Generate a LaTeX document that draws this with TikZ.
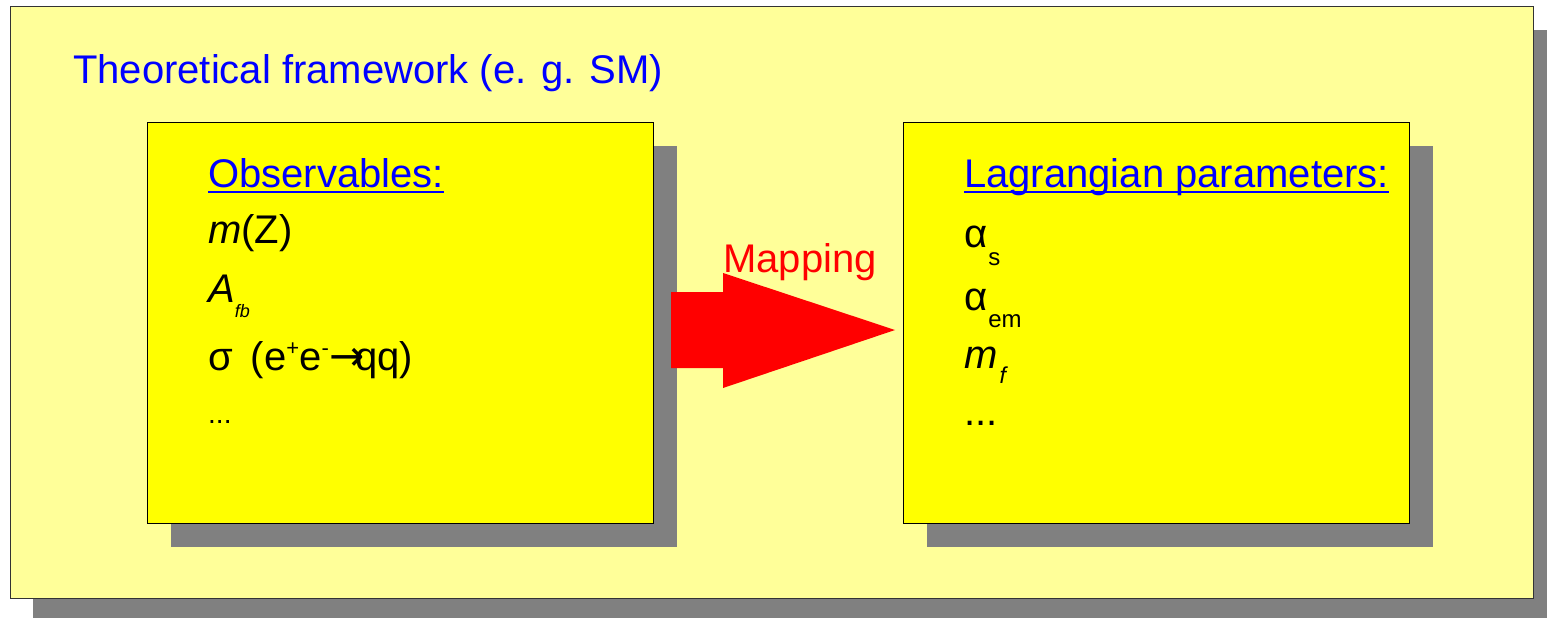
\documentclass[tikz,border=0pt]{standalone}
\usepackage{fontspec}
\setmainfont{Liberation Sans}
\newfontfamily\dejavu{DejaVu Sans}
\definecolor{paleyellow}{RGB}{255,255,153}
\definecolor{boxyellow}{RGB}{255,255,0}
\definecolor{shadowgray}{RGB}{128,128,128}
\definecolor{textblue}{RGB}{0,0,255}
\definecolor{mapred}{RGB}{255,0,0}
\newcommand{\mybigsize}{\fontsize{40}{48}\selectfont}
\newcommand{\subsz}[1]{\fontsize{#1}{#1}\selectfont}
\tikzset{
  shadowbox/.style={fill=shadowgray, draw=none},
  outerbox/.style={fill=paleyellow, draw=black!80, line width=1pt},
  innerbox/.style={fill=boxyellow, draw=black, line width=1pt},
  txt/.style={anchor=base west, inner sep=0pt, font=\mybigsize},
  heading/.style={txt, text=textblue},
}
\begin{document}
\begin{tikzpicture}[x=1pt,y=-1pt]
\useasboundingbox (0,0) rectangle (1547,618);
\fill[white] (0,0) rectangle (1547,618);
% outer frame
\path[shadowbox] (33,30) rectangle (1547,618);
\path[outerbox] (10,7) rectangle (1533,598);
\node[heading] (title) at (73,83) {Theoretical framework (e. g. SM)};
% inner boxes
\path[shadowbox] (171,146) rectangle (677,547);
\path[innerbox] (147,122) rectangle (653,523);
\path[shadowbox] (927,146) rectangle (1433,547);
\path[innerbox] (903,122) rectangle (1409,523);
% left content
\node[heading] (obs) at (208,187) {Observables:};
\draw[textblue, line width=2pt] ([yshift=-5pt]obs.base west) -- ([yshift=-5pt]obs.base east);
\node[txt] (mz) at (208,243) {\itshape m\upshape(Z)};
\node[txt] (afb) at (208,302) {\itshape A\raisebox{-15pt}{\subsz{18}\itshape fb}};
\node[txt] (sigma) at (208,370) {σ\hspace{18pt}(e\raisebox{15pt}{\subsz{22}+}e\raisebox{15pt}{\subsz{22}-}\kern1pt{\dejavu\fontsize{42}{42}\selectfont →}\kern-10pt qq)};
\node[txt] (dots1) at (208,423) {\subsz{28}...};
% right content
\node[heading] (lag) at (964,187) {Lagrangian parameters:};
\draw[textblue, line width=2pt] ([yshift=-5pt]lag.base west) -- ([yshift=-5pt]lag.base east);
\node[txt] (as) at (964,247) {α\kern1pt\raisebox{-18pt}{\subsz{24}s}};
\node[txt] (aem) at (964,310) {α\kern1pt\raisebox{-17pt}{\subsz{24}em}};
\node[txt] (mf) at (964,368) {\itshape m\kern2pt\raisebox{-15pt}{\subsz{23}\itshape f}};
\node[txt] (dots2) at (964,425) {...};
% mapping arrow
\fill[mapred] (671,292) -- (723,292) -- (723,273) -- (895,330) -- (723,388) -- (723,368) -- (671,368) -- cycle;
\node[txt, text=mapred] (map) at (723,272) {Mapping};
\end{tikzpicture}
\end{document}
